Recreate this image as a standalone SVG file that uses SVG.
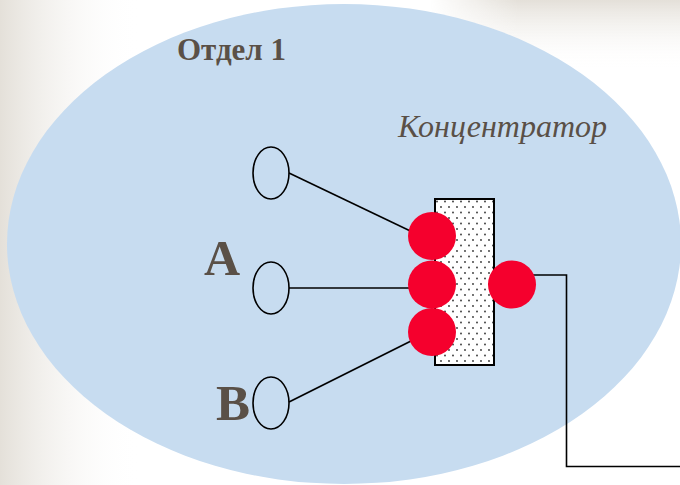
<svg xmlns="http://www.w3.org/2000/svg" width="680" height="485" viewBox="0 0 680 485">
<defs>
<linearGradient id="gl" x1="0" y1="0" x2="1" y2="0">
<stop offset="0" stop-color="#e4e0d9"/>
<stop offset="1" stop-color="#ffffff" stop-opacity="0"/>
</linearGradient>
<linearGradient id="gt" x1="0" y1="0" x2="0" y2="1">
<stop offset="0" stop-color="#e4e0d9"/>
<stop offset="1" stop-color="#ffffff" stop-opacity="0"/>
</linearGradient>
<linearGradient id="gm" x1="0" y1="0" x2="1" y2="0">
<stop offset="0" stop-color="#000"/>
<stop offset="0.35" stop-color="#fff"/>
<stop offset="1" stop-color="#fff"/>
</linearGradient>
<mask id="mt"><rect x="430" y="0" width="250" height="70" fill="url(#gm)"/></mask>
<pattern id="dots" width="8" height="11" patternUnits="userSpaceOnUse" x="435" y="199">
<rect width="8" height="11" fill="#fff"/>
<circle cx="2" cy="2.5" r="0.9" fill="#333"/>
<circle cx="6" cy="8" r="0.9" fill="#333"/>
</pattern>
<style>
.lbl{font-family:"Liberation Serif","Times New Roman",serif;fill:#5a5047}
.st{fill:none;stroke:#000;stroke-width:1.6}
.ln{stroke:#000;stroke-width:1.6;fill:none}
.red{fill:#f5002d}
</style>
</defs>
<rect width="680" height="485" fill="#fff"/>
<rect x="0" y="0" width="140" height="485" fill="url(#gl)"/>
<rect x="430" y="0" width="250" height="70" fill="url(#gt)" mask="url(#mt)"/>
<g id="dept">
<ellipse cx="344" cy="244" rx="337" ry="240" fill="#c7dcf0"/>
<text class="lbl" x="177" y="60" font-size="31" font-weight="bold">Отдел 1</text>
</g>
<g id="connectors">
<line class="ln" x1="289" y1="173" x2="425" y2="238"/>
<line class="ln" x1="289" y1="288" x2="425" y2="288"/>
<line class="ln" x1="289" y1="402" x2="425" y2="334"/>
<polyline class="ln" points="512,275 566.5,275 566.5,466.5 680,466.5"/>
</g>
<g id="stationA1">
<ellipse class="st" cx="271" cy="173" rx="18" ry="26"/>
</g>
<g id="stationA">
<ellipse class="st" cx="271" cy="288" rx="18" ry="26"/>
<text class="lbl" x="204" y="275" font-size="50" font-weight="bold">A</text>
</g>
<g id="stationB">
<ellipse class="st" cx="271" cy="403" rx="18" ry="26"/>
<text class="lbl" x="216" y="420" font-size="51" font-weight="bold">B</text>
</g>
<g id="hub">
<rect x="435" y="199" width="59" height="166" fill="url(#dots)" stroke="#000" stroke-width="2"/>
<circle class="red" cx="432" cy="236" r="24"/>
<circle class="red" cx="432" cy="284.5" r="24"/>
<circle class="red" cx="432" cy="332" r="24"/>
<circle class="red" cx="512" cy="284.5" r="24"/>
<text class="lbl" x="398" y="137" font-size="32" font-style="italic">Концентратор</text>
</g>
</svg>
